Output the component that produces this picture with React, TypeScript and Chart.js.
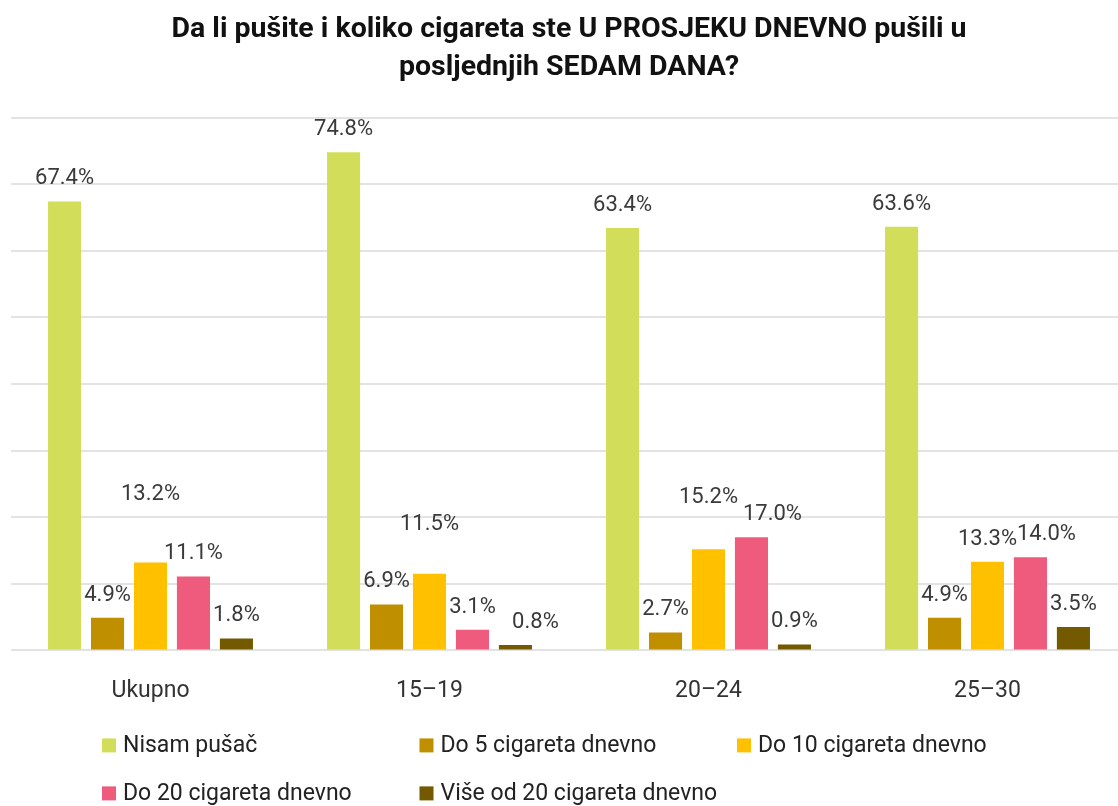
import React, { useEffect, useRef } from 'react';
import { Chart, registerables } from 'chart.js';

Chart.register(...registerables);

// ---------- data ----------
const titleLines = ['Da li pušite i koliko cigareta ste U PROSJEKU DNEVNO pušili u', 'posljednjih SEDAM DANA?'];
const categories = ['Ukupno', '15–19', '20–24', '25–30'];
const seriesNames = [
  'Nisam pušač',
  'Do 5 cigareta dnevno',
  'Do 10 cigareta dnevno',
  'Do 20 cigareta dnevno',
  'Više od 20 cigareta dnevno',
];
const nisamPusac = [67.4, 74.8, 63.4, 63.6];
const do5 = [4.9, 6.9, 2.7, 4.9];
const do10 = [13.2, 11.5, 15.2, 13.3];
const do20 = [11.1, 3.1, 17.0, 14.0];
const viseOd20 = [1.8, 0.8, 0.9, 3.5];
const yMin = 0;
const yMax = 80;
const yStep = 10;

// ---------- styles ----------
const seriesColors = ['#D2DE5A', '#BF8F00', '#FFC000', '#EE5B7C', '#735900'];
// extra upward shift (px) of some value labels, as placed in the reference
const labelExtraLift = [
  [0, 0, 0, 0],
  [0, 0, 0, 0],
  [45, 27, 29, 0],
  [0, 0, 0, 0],
  [0, 0, 0, 0],
];
// sideways shift (px) of some value labels, as placed in the reference
const labelShiftX = [
  [0, 0, 0, 0],
  [0, 0, 0, 0],
  [0, 0, 0, 0],
  [0, 0, 21, 16],
  [0, 20, 0, 0],
];
const FONT = 'Roboto, "Noto Sans", sans-serif';

const valueLabelPlugin = {
  id: 'valueLabels',
  afterDatasetsDraw(chart: any) {
    const { ctx } = chart;
    ctx.save();
    ctx.font = `22px ${FONT}`;
    ctx.fillStyle = '#3a3a3a';
    ctx.textAlign = 'center';
    ctx.textBaseline = 'alphabetic';
    chart.data.datasets.forEach((ds: any, di: number) => {
      const meta = chart.getDatasetMeta(di);
      meta.data.forEach((el: any, i: number) => {
        const v = ds.data[i] as number;
        const lift = 17 + (labelExtraLift[di]?.[i] ?? 0);
        const dx = labelShiftX[di]?.[i] ?? 0;
        ctx.fillText(v.toFixed(1) + '%', el.x + dx, el.y - lift);
      });
    });
    ctx.restore();
  },
};

const gridLegendPlugin = {
  id: 'gridLegend',
  afterDraw(chart: any) {
    const { ctx, chartArea } = chart;
    ctx.save();
    ctx.font = `23px ${FONT}`;
    ctx.textAlign = 'left';
    ctx.textBaseline = 'middle';
    chart.data.datasets.forEach((ds: any, i: number) => {
      const col = i % 3;
      const row = Math.floor(i / 3);
      const x = chartArea.left + 91 + col * 317.5;
      const y = chartArea.bottom + 95 + row * 48;
      ctx.fillStyle = ds.backgroundColor;
      ctx.fillRect(x, y - 7, 14, 14);
      ctx.fillStyle = '#222222';
      ctx.fillText(ds.label, x + 21, y + 1);
    });
    ctx.restore();
  },
};

export default function App() {
  const canvasRef = useRef<HTMLCanvasElement | null>(null);

  useEffect(() => {
    if (!canvasRef.current) return;
    const seriesData = [nisamPusac, do5, do10, do20, viseOd20];
    const chart = new Chart(canvasRef.current, {
      type: 'bar',
      data: {
        labels: categories,
        datasets: seriesNames.map((name, i) => ({
          label: name,
          data: seriesData[i],
          backgroundColor: seriesColors[i],
          borderWidth: 0,
          categoryPercentage: 0.77,
          barPercentage: 0.77,
        })),
      },
      options: {
        responsive: false,
        animation: false,
        devicePixelRatio: 1,
        layout: { padding: { left: 11, right: 13, top: 0, bottom: 74 } },
        font: { family: FONT },
        plugins: {
          legend: { display: false },
          tooltip: { enabled: false },
          title: {
            display: true,
            text: titleLines,
            color: '#111111',
            font: { family: FONT, size: 28.5, weight: 'bold', lineHeight: 1.36 },
            padding: { top: 10, bottom: 30 },
          },
        },
        scales: {
          x: {
            grid: { display: false, drawTicks: false },
            border: { display: false },
            ticks: { color: '#333333', font: { family: FONT, size: 23 }, padding: 27 },
          },
          y: {
            min: yMin,
            max: yMax,
            ticks: { display: false, stepSize: yStep },
            grid: { color: '#e3e3e3', lineWidth: 2, drawTicks: false },
            border: { display: false },
          },
        },
      } as any,
      plugins: [valueLabelPlugin, gridLegendPlugin],
    });
    return () => chart.destroy();
  }, []);

  return (
    <div style={{ position: 'fixed', left: 0, top: 0, width: 1118, height: 806, overflow: 'hidden', background: '#fff' }}>
      <canvas ref={canvasRef} width={1140} height={806} style={{ display: 'block' }} />
    </div>
  );
}
